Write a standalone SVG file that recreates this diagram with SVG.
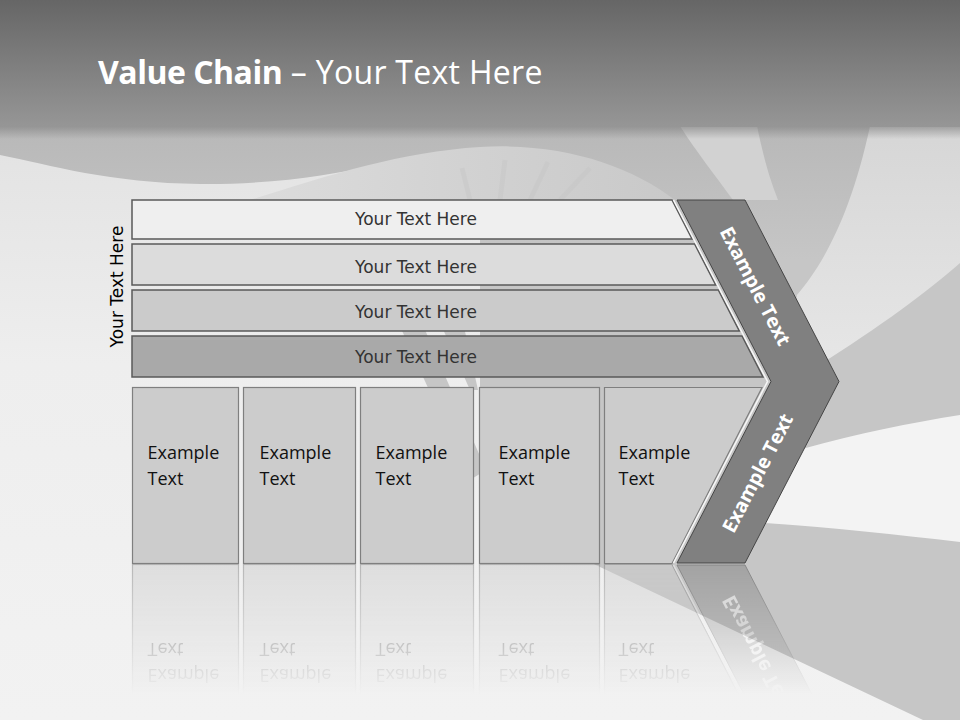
<svg xmlns="http://www.w3.org/2000/svg" width="960" height="720" viewBox="0 0 960 720">
<style>
.row{stroke:#5a5a5a;stroke-width:1.5}
.rowtxt{font-family:"DejaVu Sans",Verdana,sans-serif;font-size:17px;fill:#333;text-anchor:middle}
.box{fill:#cccccc;stroke:#7f7f7f;stroke-width:1.2}
.boxtxt{font-family:"Open Sans","Liberation Sans",sans-serif;font-size:18px;fill:#111}
.chev{fill:#808080;stroke:#454545;stroke-width:1}
.chevtxt{font-family:"Open Sans","Liberation Sans",sans-serif;font-weight:bold;font-size:19.5px;fill:#fff;text-anchor:middle}
</style>
<defs>
  <linearGradient id="hdr" x1="0" y1="0" x2="0" y2="1">
    <stop offset="0" stop-color="#666666"/>
    <stop offset="1" stop-color="#969696"/>
  </linearGradient>
  <linearGradient id="hdrShadow" x1="0" y1="0" x2="0" y2="1">
    <stop offset="0" stop-color="#808080" stop-opacity="0.6"/>
    <stop offset="1" stop-color="#808080" stop-opacity="0"/>
  </linearGradient>
  <linearGradient id="base" x1="0" y1="126" x2="0" y2="720" gradientUnits="userSpaceOnUse">
    <stop offset="0" stop-color="#e2e2e2"/>
    <stop offset="0.4" stop-color="#eeeeee"/>
    <stop offset="1" stop-color="#f2f2f2"/>
  </linearGradient>
  <linearGradient id="grey" x1="0" y1="126" x2="0" y2="260" gradientUnits="userSpaceOnUse">
    <stop offset="0" stop-color="#b8b8b8"/>
    <stop offset="1" stop-color="#c6c6c6"/>
  </linearGradient>
  <linearGradient id="dome" x1="250" y1="0" x2="675" y2="0" gradientUnits="userSpaceOnUse">
    <stop offset="0" stop-color="#dcdcdc"/>
    <stop offset="0.5" stop-color="#d2d2d2"/>
    <stop offset="1" stop-color="#c9c9c9"/>
  </linearGradient>
  <linearGradient id="lightband" x1="0" y1="126" x2="0" y2="360" gradientUnits="userSpaceOnUse">
    <stop offset="0" stop-color="#d6d6d6"/>
    <stop offset="1" stop-color="#e6e6e6"/>
  </linearGradient>
  <linearGradient id="fade" x1="0" y1="565" x2="0" y2="695" gradientUnits="userSpaceOnUse">
    <stop offset="0" stop-color="#ffffff" stop-opacity="0.5"/>
    <stop offset="1" stop-color="#ffffff" stop-opacity="0"/>
  </linearGradient>
  <mask id="reflMask" maskUnits="userSpaceOnUse" x="0" y="564" width="960" height="156">
    <rect x="0" y="564" width="960" height="156" fill="url(#fade)"/>
  </mask>
</defs>

<g id="background">
  <rect x="0" y="0" width="960" height="720" fill="url(#base)"/>
  <path d="M0,126 H960 V720 H923 L560,548 L480,400 L480,148 C400,155 330,185 200,184 C110,183 50,165 0,155 Z" fill="url(#grey)"/>
  <path d="M250,200 C330,175 400,152 480,147 C560,142 630,165 675,200 Z" fill="url(#dome)"/>
  <g stroke="#c6c6c6" stroke-width="5" fill="none" opacity="0.45">
    <path d="M470,200 L462,168"/>
    <path d="M500,200 L505,160"/>
    <path d="M530,200 L548,162"/>
    <path d="M560,200 L590,168"/>
  </g>
  <path d="M680,126 L757,126 C762,150 768,175 778,200 L733,200 C715,175 695,150 680,126 Z" fill="#d2d2d2"/>
  <path d="M870,126 H960 V263 C935,285 893,318 827,360 L790,340 L797,295 C820,268 850,220 870,126 Z" fill="url(#lightband)"/>
  <path d="M802,449 C860,433 910,423 960,415 V542 C900,535 830,527 765,523 L760,480 Z" fill="#f3f3f3"/>
  <path d="M388,300 L412,300 L486,470 L470,480 Z" fill="#c6c6c6"/>
  <path d="M430,300 L458,300 L478,390 L470,390 Z" fill="#c6c6c6"/>
</g>

<g id="header">
  <rect x="0" y="0" width="960" height="127" fill="url(#hdr)"/>
  <rect x="0" y="127" width="960" height="12" fill="url(#hdrShadow)"/>
  <text x="98" y="84" font-family="'Open Sans','Liberation Sans',sans-serif" font-size="32" fill="#ffffff"><tspan font-weight="bold" letter-spacing="-0.5">Value Chain</tspan><tspan letter-spacing="0.3"> – Your Text Here</tspan></text>
</g>

<g id="side-label">
  <text transform="translate(123,286.5) rotate(-90)" class="rowtxt" style="fill:#000">Your Text Here</text>
</g>

<g id="row1">
  <polygon class="row" points="132,200 672,200 692,239 132,239" fill="#efefef"/>
  <text class="rowtxt" x="416" y="225">Your Text Here</text>
</g>
<g id="row2">
  <polygon class="row" points="132,244 694.6,244 715.7,285 132,285" fill="#dcdcdc"/>
  <text class="rowtxt" x="416" y="272.5">Your Text Here</text>
</g>
<g id="row3">
  <polygon class="row" points="132,290 718.3,290 739.3,331 132,331" fill="#cbcbcb"/>
  <text class="rowtxt" x="416" y="317.5">Your Text Here</text>
</g>
<g id="row4">
  <polygon class="row" points="132,336 742,336 763,377 132,377" fill="#a9a9a9"/>
  <text class="rowtxt" x="416" y="362.5">Your Text Here</text>
</g>

<g id="box1">
  <rect class="box" x="132.5" y="387.5" width="106" height="176"/>
  <text class="boxtxt" x="147.5" y="459">Example<tspan x="147.5" dy="26">Text</tspan></text>
</g>
<g id="box2">
  <rect class="box" x="243.5" y="387.5" width="112" height="176"/>
  <text class="boxtxt" x="259.5" y="459">Example<tspan x="259.5" dy="26">Text</tspan></text>
</g>
<g id="box3">
  <rect class="box" x="360.5" y="387.5" width="113" height="176"/>
  <text class="boxtxt" x="375.5" y="459">Example<tspan x="375.5" dy="26">Text</tspan></text>
</g>
<g id="box4">
  <rect class="box" x="479.5" y="387.5" width="120" height="176"/>
  <text class="boxtxt" x="498.5" y="459">Example<tspan x="498.5" dy="26">Text</tspan></text>
</g>
<g id="box5">
  <polygon class="box" points="604.5,387.5 762,387.5 672,563.5 604.5,563.5"/>
  <text class="boxtxt" x="618.5" y="459">Example<tspan x="618.5" dy="26">Text</tspan></text>
</g>

<g id="chevron">
  <polyline points="673.5,200 767.5,381.5 673.5,563" fill="none" stroke="#f6f6f6" stroke-width="1.6"/>
  <polygon class="chev" points="677,200 745,200 839,381.5 745,563 677,563 771,381.5"/>
  <text class="chevtxt" transform="translate(755.5,286) rotate(62.6)" y="7">Example Text</text>
  <text class="chevtxt" transform="translate(757.5,473) rotate(-62.6)" y="7">Example Text</text>
</g>

<g id="reflection" mask="url(#reflMask)">
  <g transform="matrix(1 0 0 -1 0 1128)">
    <use href="#box1"/>
    <use href="#box2"/>
    <use href="#box3"/>
    <use href="#box4"/>
    <use href="#box5"/>
    <use href="#chevron"/>
  </g>
</g>

<g id="connectors"></g>
</svg>
